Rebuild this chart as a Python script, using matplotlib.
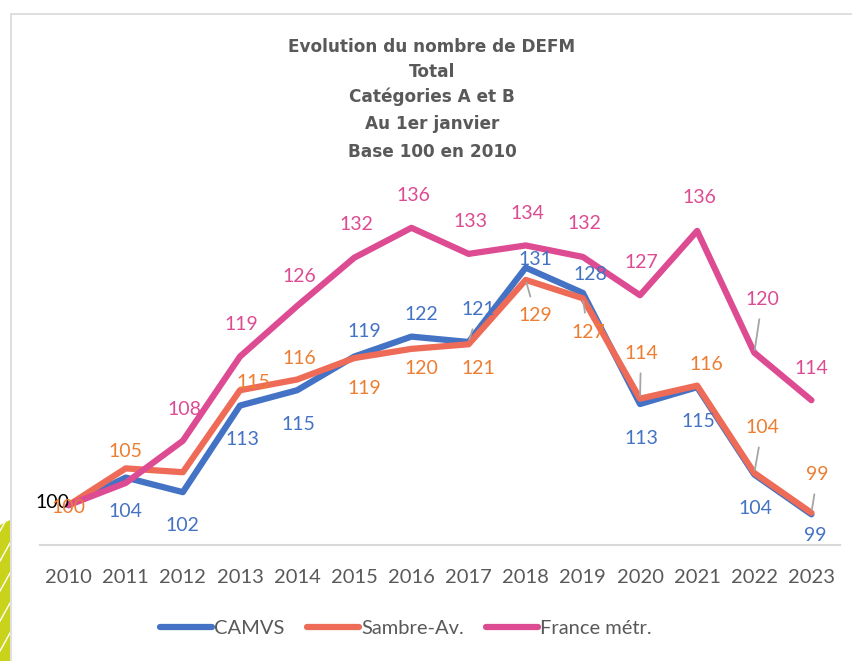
import numpy as np
import matplotlib
matplotlib.use("Agg")
import matplotlib.pyplot as plt
from matplotlib.patches import Polygon, Rectangle
from matplotlib.lines import Line2D

years = list(range(2010, 2024))
camvs = [100, 103.6, 101.7, 113.0, 115.0, 119.4, 122.0, 121.3, 131.0, 127.7, 113.2, 115.4, 104.0, 98.8]
sambre = [100, 104.8, 104.3, 115.0, 116.4, 119.2, 120.4, 121.0, 129.4, 127.0, 113.9, 115.6, 104.2, 99.0]
france = [100, 102.9, 108.4, 119.4, 126.0, 132.3, 136.2, 132.8, 133.9, 132.4, 127.4, 135.8, 119.9, 113.7]
names = ["CAMVS", "Sambre-Av.", "France métr."]
title_lines = ["Evolution du nombre de DEFM", "Total", "Catégories A et B",
               "Au 1er janvier", "Base 100 en 2010"]

line_colors = ["#4472C4", "#EE6B57", "#DD4B92"]
text_colors = ["#4472C4", "#ED7D31", "#DD4B92"]

# label offsets in pixels (dx, dy), None = no label, third item = leader line
offs_camvs = [(-16, 3, 0), (0, -34, 0), (0, -33, 0), (2, -34, 0), (1, -34, 0), (10, 25, 0),
              (10, 22, 0), (10, 32, 1), (10, 8, 0), (8, 18, 0), (1, -34, 0), (1, -34, 0),
              (1, -34, 0), (4, -21, 0)]
offs_sambre = [(0, -2, 0), (0, 17, 0), None, (13, 8, 0), (2, 21, 0), (10, -30, 0),
               (10, -20, 0), (10, -24, 0), (10, -36, 1), (5, -34, 1), (1, 45, 1),
               (9, 21, 0), (8, 45, 1), (6, 38, 1)]
offs_france = [None, None, (2, 31, 0), (1, 32, 0), (2, 29, 0), (2, 33, 0), (2, 32, 0),
               (2, 32, 0), (2, 32, 0), (2, 33, 0), (1, 33, 0), (2, 33, 0), (8, 53, 1),
               (0, 32, 0)]

W, H = 853, 661
fig = plt.figure(figsize=(W / 100, H / 100), dpi=100)

# decoration: chart frame and green corner
fig.patches.append(Rectangle((11 / W, -0.1), 1.2, (H - 14) / H + 0.1, transform=fig.transFigure,
                             fill=False, edgecolor="#D9D9D9", lw=1.2))
corner = Polygon([(0, 0), (0, 136 / H), (10 / W, 141 / H), (10 / W, 0)], closed=True,
                 transform=fig.transFigure, facecolor="#C9D31C", edgecolor="none")
fig.patches.append(corner)
for k in range(8):
    y0 = (k * 30 - 20) / H
    ln = Line2D([0, 10 / W], [y0, y0 + 18 / H], transform=fig.transFigure, color="white", lw=1)
    ln.set_clip_path(corner)
    fig.lines.append(ln)

ax = fig.add_axes([40 / W, 1 - 545 / H, 800 / W, 380 / H])
ax.set_xlim(2009.5, 2023.5)
ax.set_ylim(94.8, 144.4)

series = [camvs, sambre, france]
offsets = [offs_camvs, offs_sambre, offs_france]
for vals, col, name in zip(series, line_colors, names):
    ax.plot(years, vals, color=col, lw=4.5, label=name,
            solid_joinstyle="round", solid_capstyle="round")

for i, (vals, offs) in enumerate(zip(series, offsets)):
    for yr, v, o in zip(years, vals, offs):
        if o is None:
            continue
        dx, dy, lead = o
        col = text_colors[i]
        if i == 0 and yr == 2010:
            col = "black"
        arrow = None
        if lead:
            arrow = dict(arrowstyle="-", color="#A5A5A5", lw=1.3, shrinkA=6, shrinkB=2)
        ax.annotate(f"{round(v)}", (yr, v), xytext=(dx, dy), textcoords="offset pixels",
                    ha="center", va="center", fontsize=14, color=col, family="Lato",
                    arrowprops=arrow, zorder=5)

for s in ["top", "left", "right"]:
    ax.spines[s].set_visible(False)
ax.spines["bottom"].set_color("#D9D9D9")
ax.spines["bottom"].set_linewidth(1.5)
ax.set_yticks([])
ax.set_xticks(years)
ax.set_xticklabels([str(y) for y in years], fontsize=14.5, color="#595959", family="Lato")
ax.tick_params(axis="x", length=0, pad=17)

for t, yp in zip(title_lines, [47, 72, 97, 124, 152]):
    fig.text(432 / W, 1 - yp / H, t, ha="center", va="center", fontsize=12.2,
             fontweight="bold", color="#595959")

fig.legend(loc="center", bbox_to_anchor=(406 / W, 1 - 628 / H), ncol=3, frameon=False,
           handlelength=2.6, handletextpad=0.1, columnspacing=1.1,
           prop=dict(family="Lato", size=14.5), labelcolor="#595959")

fig.savefig("out.png", dpi=100)
